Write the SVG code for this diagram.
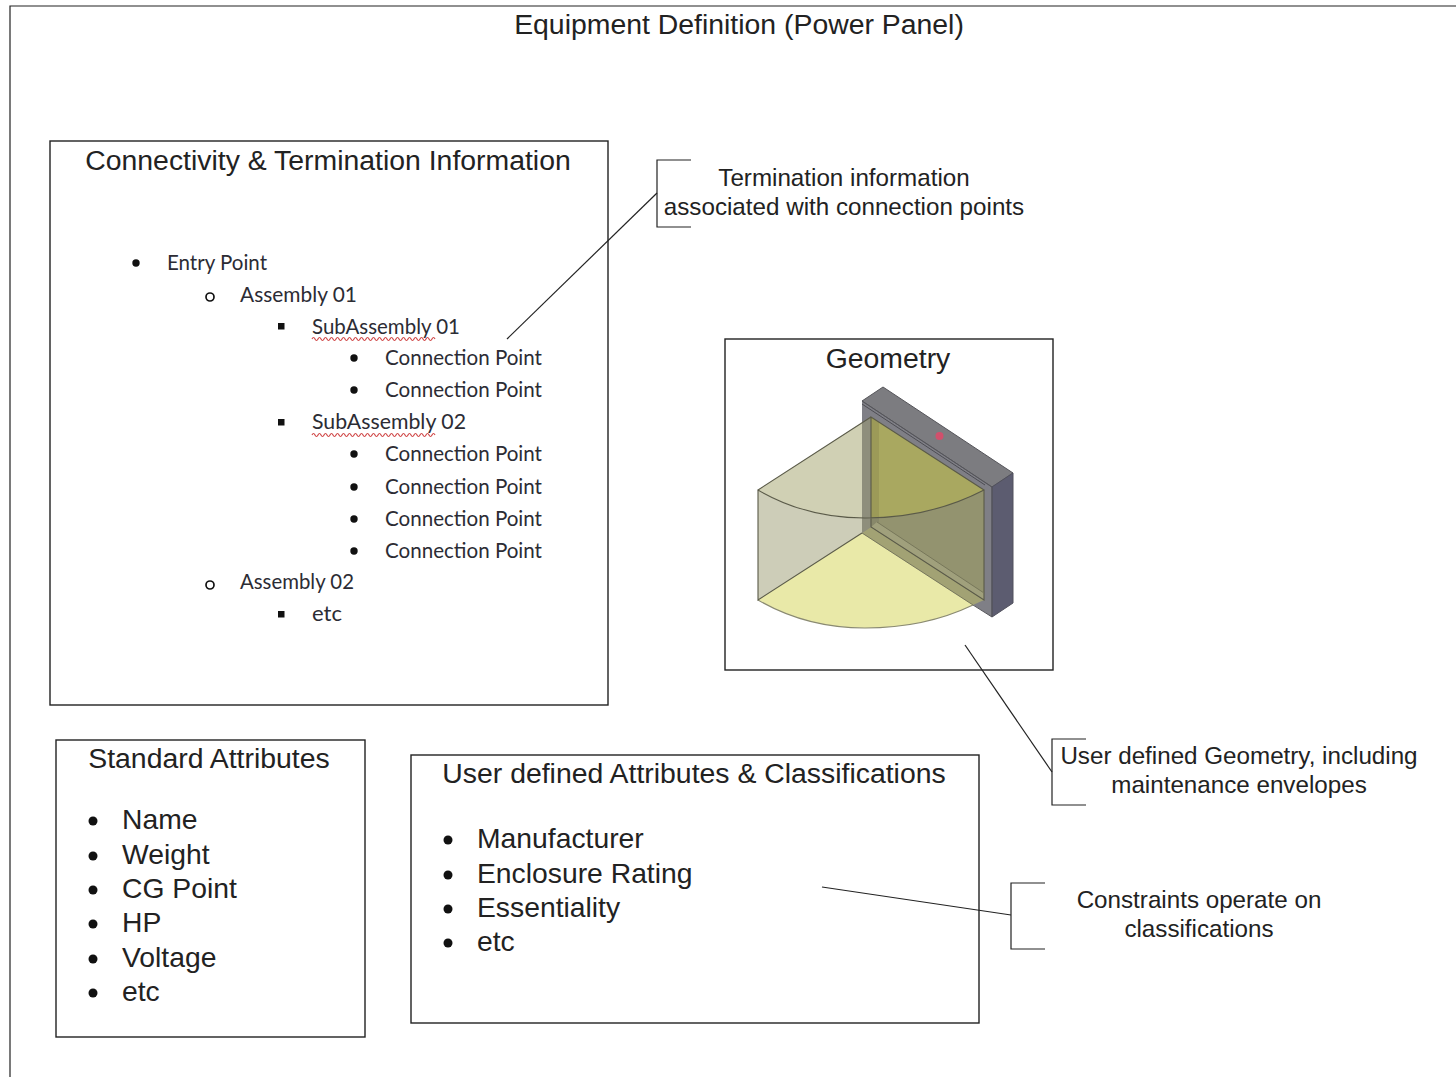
<svg xmlns="http://www.w3.org/2000/svg" width="1456" height="1077" viewBox="0 0 1456 1077">
<style>
.box{fill:#fff;stroke:#222;stroke-width:1.4}
.ln{fill:none;stroke:#222;stroke-width:1.2}
text{font-family:"Liberation Sans",Arial,sans-serif;fill:#222}
.t{font-size:28.4px;text-anchor:middle}
.n{font-size:24.2px;text-anchor:middle}
.a{font-size:28.3px}
.c{font-family:Lato,"Open Sans",sans-serif;font-size:21px;fill:#2c2c34}
.sq{fill:none;stroke:#d04848;stroke-width:1.2}
</style>
<rect width="1456" height="1077" fill="#fff"/>
<g id="frame"><path class="ln" d="M10 1077V6H1456"/></g>
<text class="t" x="739" y="34">Equipment Definition (Power Panel)</text>
<g id="connectivity">
<rect class="box" x="50" y="141" width="558" height="564"/>
<text class="t" x="328" y="170">Connectivity &amp; Termination Information</text>
<g fill="#111">
<circle cx="136" cy="263" r="3.7"/><circle cx="354" cy="358" r="3.7"/><circle cx="354" cy="390" r="3.7"/><circle cx="354" cy="454" r="3.7"/><circle cx="354" cy="487" r="3.7"/><circle cx="354" cy="519" r="3.7"/><circle cx="354" cy="551" r="3.7"/>
<rect x="278" y="323" width="6.5" height="6.5"/><rect x="278" y="419" width="6.5" height="6.5"/><rect x="278" y="611" width="6.5" height="6.5"/>
</g>
<circle cx="210" cy="297" r="4" fill="none" stroke="#111" stroke-width="1.7"/><circle cx="210" cy="585" r="4" fill="none" stroke="#111" stroke-width="1.7"/>
<text class="c" x="167" y="270" textLength="100" lengthAdjust="spacingAndGlyphs">Entry Point</text>
<text class="c" x="240" y="302" textLength="117" lengthAdjust="spacingAndGlyphs">Assembly 01</text>
<text class="c" x="312" y="334" textLength="148" lengthAdjust="spacingAndGlyphs">SubAssembly 01</text>
<text class="c" x="385" y="365" textLength="157" lengthAdjust="spacingAndGlyphs">Connection Point</text>
<text class="c" x="385" y="397" textLength="157" lengthAdjust="spacingAndGlyphs">Connection Point</text>
<text class="c" x="312" y="429" textLength="154" lengthAdjust="spacingAndGlyphs">SubAssembly 02</text>
<text class="c" x="385" y="461" textLength="157" lengthAdjust="spacingAndGlyphs">Connection Point</text>
<text class="c" x="385" y="494" textLength="157" lengthAdjust="spacingAndGlyphs">Connection Point</text>
<text class="c" x="385" y="526" textLength="157" lengthAdjust="spacingAndGlyphs">Connection Point</text>
<text class="c" x="385" y="558" textLength="157" lengthAdjust="spacingAndGlyphs">Connection Point</text>
<text class="c" x="240" y="589" textLength="114" lengthAdjust="spacingAndGlyphs">Assembly 02</text>
<text class="c" x="312" y="621" textLength="30" lengthAdjust="spacingAndGlyphs">etc</text>
<path class="sq" d="M312 339q1.5-3 3 0t3 0 3 0 3 0 3 0 3 0 3 0 3 0 3 0 3 0 3 0 3 0 3 0 3 0 3 0 3 0 3 0 3 0 3 0 3 0 3 0 3 0 3 0 3 0 3 0 3 0 3 0 3 0 3 0 3 0 3 0 3 0 3 0 3 0 3 0 3 0 3 0 3 0 3 0 3 0 3 0"/>
<path class="sq" d="M312 435q1.5-3 3 0t3 0 3 0 3 0 3 0 3 0 3 0 3 0 3 0 3 0 3 0 3 0 3 0 3 0 3 0 3 0 3 0 3 0 3 0 3 0 3 0 3 0 3 0 3 0 3 0 3 0 3 0 3 0 3 0 3 0 3 0 3 0 3 0 3 0 3 0 3 0 3 0 3 0 3 0 3 0 3 0"/>
</g>
<g id="geometry">
<rect class="box" x="725" y="339" width="328" height="331"/>
<text class="t" x="888" y="368">Geometry</text>
<polygon points="862,401 992,487 992,617 862,533" fill="#7f7f86"/>
<polygon points="862,401 883,387 1013,473 992,487" fill="#7c7c80" stroke="#55555a"/>
<polygon points="992,487 1013,473 1013,603 992,617" fill="#5c5c70" stroke="#50505c"/>
<path d="M862 401 992 487V617L973 605" fill="none" stroke="#55555a"/>
<path d="M862 404 985 485" fill="none" stroke="#4c4c52"/>
<path d="M758 490V600L862 533V518Q806 518 758 490Z" fill="#cdcdb8"/>
<path d="M871 417 758 490Q806 518 862 518V423Z" fill="#d0d0b4"/>
<path d="M862 423 871 417V527L862 533Z" fill="#8e8e7c"/>
<path d="M871 417 984 490Q930 518 871 518Z" fill="#a9a860"/>
<path d="M871 417 879 422V518H871Z" fill="#9c9a58"/>
<path d="M871 518Q930 518 984 490V600L871 527Z" fill="#93936f"/>
<path d="M871 518H879V522L871 527Z" fill="#88886a"/>
<path d="M758 600 862 533 973 605Q925 628 865 628 806 628 758 600Z" fill="#e9e9a8"/>
<path d="M862 533 871 527 984 600 973 605Z" fill="#a2a274"/>
<path d="M877 522 984 593V600L871 527Z" fill="#a0a07c"/>
<path d="M758 600Q806 628 865 628 925 628 973 605" fill="none" stroke="#8a8a72" stroke-width="1.2"/>
<path d="M758 490V600L862 533M871 417 758 490Q806 518 865 518 930 518 984 490L871 417V527L984 600V490" fill="none" stroke="#5a5a48" stroke-width="1.1"/>
<path d="M877 522 984 593M862 533 973 605" fill="none" stroke="#77775a"/>
<circle cx="939.500" cy="436" r="4" fill="#d0506c"/>
</g>
<g id="standard">
<rect class="box" x="56" y="740" width="309" height="297"/>
<text class="t" x="209" y="768">Standard Attributes</text>
<g fill="#111"><circle cx="93" cy="821" r="4.5"/><circle cx="93" cy="856" r="4.5"/><circle cx="93" cy="890" r="4.5"/><circle cx="93" cy="924" r="4.5"/><circle cx="93" cy="959" r="4.5"/><circle cx="93" cy="993" r="4.5"/></g>
<text class="a" x="122" y="829">Name</text><text class="a" x="122" y="864">Weight</text><text class="a" x="122" y="898">CG Point</text><text class="a" x="122" y="932">HP</text><text class="a" x="122" y="967">Voltage</text><text class="a" x="122" y="1001">etc</text>
</g>
<g id="user">
<rect class="box" x="411" y="755" width="568" height="268"/>
<text class="t" x="694" y="783">User defined Attributes &amp; Classifications</text>
<g fill="#111"><circle cx="448" cy="840" r="4.5"/><circle cx="448" cy="875" r="4.5"/><circle cx="448" cy="909" r="4.5"/><circle cx="448" cy="943" r="4.5"/></g>
<text class="a" x="477" y="848">Manufacturer</text><text class="a" x="477" y="883">Enclosure Rating</text><text class="a" x="477" y="917">Essentiality</text><text class="a" x="477" y="951">etc</text>
</g>
<g id="note-termination">
<path class="ln" d="M691 160H657V227H691"/>
<text class="n" x="844" y="186">Termination information</text>
<text class="n" x="844" y="215">associated with connection points</text>
</g>
<g id="note-geometry">
<path class="ln" d="M1086 739H1052V805H1086"/>
<text class="n" x="1239" y="764">User defined Geometry, including</text>
<text class="n" x="1239" y="793">maintenance envelopes</text>
</g>
<g id="note-constraints">
<path class="ln" d="M1045 883H1011V949H1045"/>
<text class="n" x="1199" y="908">Constraints operate on</text>
<text class="n" x="1199" y="937">classifications</text>
</g>
<g id="connectors">
<path class="ln" d="M657 193 507 339"/>
<path class="ln" d="M965 645 1052 772"/>
<path class="ln" d="M822 887 1011 915"/>
</g>
</svg>
